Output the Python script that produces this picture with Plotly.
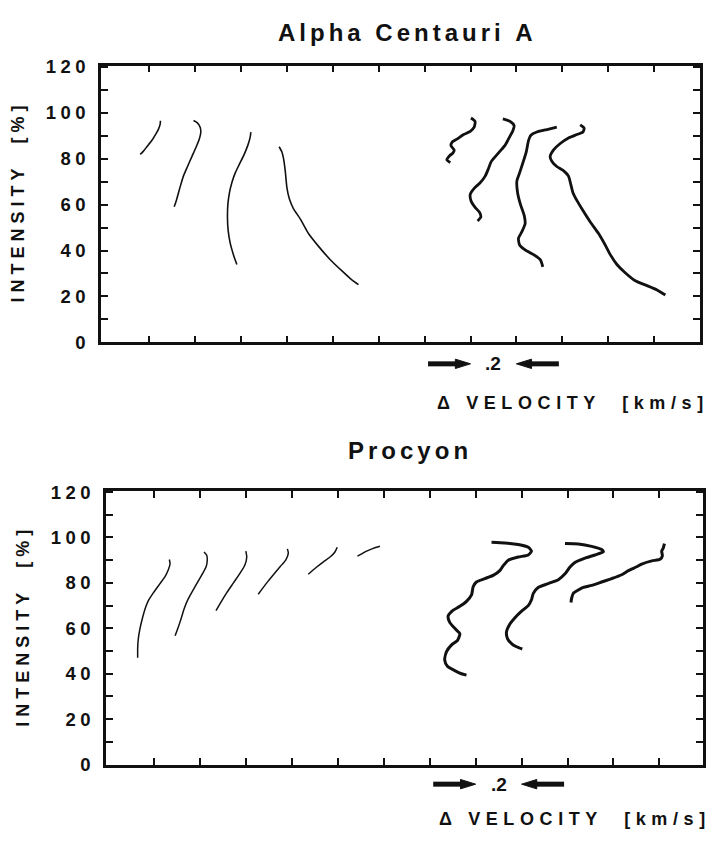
import plotly.graph_objects as go

# ---------------- data: line bisectors, velocity offset [km/s] vs intensity [%]
# Alpha Centauri A
acen_1_v = [-0.039, -0.025, -0.010, 0.012, 0.030, 0.041, 0.048, 0.049]
acen_1_i = [81.9, 83.3, 85.2, 88.0, 90.9, 93.0, 95.2, 96.5]
acen_2_v = [0.193, 0.210, 0.222, 0.225, 0.219, 0.205, 0.186, 0.167, 0.149, 0.138, 0.128, 0.118, 0.109]
acen_2_i = [96.6, 95.6, 93.7, 91.6, 88.8, 85.2, 80.9, 76.6, 72.4, 68.8, 65.3, 61.7, 59.1]
acen_3_v = [0.443, 0.440, 0.430, 0.414, 0.393, 0.375, 0.360, 0.350, 0.343, 0.341, 0.344, 0.353, 0.367, 0.382]
acen_3_i = [91.6, 89.4, 85.9, 81.9, 77.6, 73.8, 69.5, 65.3, 60.3, 54.6, 48.8, 43.2, 38.2, 33.9]
acen_4_v = [0.566, 0.578, 0.585, 0.593, 0.600, 0.611, 0.629, 0.658, 0.694, 0.738, 0.789, 0.840, 0.883, 0.912]
acen_4_i = [85.2, 83.0, 80.2, 74.5, 67.4, 62.4, 58.1, 53.8, 47.4, 41.8, 36.0, 31.1, 27.2, 25.1]
acen_5_v = [1.402, 1.420, 1.416, 1.399, 1.370, 1.341, 1.319, 1.315, 1.329, 1.323, 1.309, 1.297, 1.312]
acen_5_i = [97.7, 96.2, 93.7, 91.9, 90.5, 88.5, 87.1, 85.6, 83.8, 82.4, 81.3, 79.5, 78.3]
acen_6_v = [1.541, 1.573, 1.590, 1.585, 1.570, 1.551, 1.529, 1.508, 1.489, 1.478, 1.464, 1.442, 1.416,
            1.399, 1.402, 1.420, 1.439, 1.445, 1.431]
acen_6_i = [97.3, 96.2, 94.4, 92.3, 89.4, 85.9, 83.3, 80.9, 78.5, 75.6, 72.4, 69.5, 67.1,
            64.5, 61.7, 58.8, 56.7, 54.6, 52.9]
acen_7_v = [1.776, 1.733, 1.689, 1.663, 1.653, 1.643, 1.628, 1.614, 1.602, 1.605, 1.617, 1.634, 1.638,
            1.624, 1.609, 1.614, 1.638, 1.675, 1.704, 1.715]
acen_7_i = [93.7, 92.7, 91.6, 90.2, 88.0, 83.0, 78.1, 73.8, 70.2, 65.3, 60.3, 55.3, 51.7,
            48.2, 45.3, 42.4, 40.3, 38.2, 36.0, 32.9]
acen_8_v = [1.878, 1.895, 1.890, 1.864, 1.827, 1.791, 1.762, 1.747, 1.755, 1.776, 1.805, 1.827, 1.837,
            1.846, 1.864, 1.890, 1.922, 1.958, 1.987, 2.009, 2.038, 2.074, 2.118, 2.169, 2.213, 2.249]
acen_8_i = [94.7, 93.3, 91.6, 90.5, 89.0, 86.6, 83.8, 80.9, 78.8, 76.6, 74.8, 72.4, 68.8,
            65.3, 61.7, 57.4, 52.4, 47.4, 42.4, 38.2, 33.9, 30.3, 26.8, 24.7, 22.8, 20.6]

# Procyon
proc_1_v = [0.066, 0.069, 0.061, 0.047, 0.025, -0.004, -0.026, -0.040, -0.052, -0.062, -0.069, -0.072, -0.072]
proc_1_i = [90.3, 88.3, 85.7, 82.8, 79.7, 75.6, 72.1, 68.5, 64.2, 59.9, 55.7, 51.4, 47.1]
proc_2_v = [0.217, 0.229, 0.231, 0.226, 0.211, 0.189, 0.163, 0.144, 0.130, 0.117, 0.105, 0.091]
proc_2_i = [93.6, 92.1, 90.0, 87.1, 84.2, 80.3, 75.7, 72.1, 68.5, 64.2, 60.6, 56.7]
proc_3_v = [0.399, 0.403, 0.395, 0.374, 0.345, 0.316, 0.294, 0.269]
proc_3_i = [94.0, 91.4, 87.9, 84.3, 80.0, 75.7, 72.1, 67.8]
proc_4_v = [0.580, 0.584, 0.574, 0.548, 0.519, 0.490, 0.453]
proc_4_i = [95.0, 93.1, 90.3, 87.1, 83.6, 80.0, 75.0]
proc_5_v = [0.797, 0.787, 0.766, 0.737, 0.705, 0.671]
proc_5_i = [95.7, 93.6, 91.4, 89.3, 86.8, 83.8]
proc_6_v = [0.983, 0.954, 0.925, 0.904, 0.885]
proc_6_i = [96.1, 95.2, 94.0, 92.8, 91.8]
proc_7_v = [1.469, 1.527, 1.585, 1.629, 1.643, 1.629, 1.585, 1.542, 1.520, 1.505, 1.476, 1.440, 1.403,
            1.389, 1.382, 1.360, 1.331, 1.297, 1.280, 1.287, 1.312, 1.331, 1.321, 1.294, 1.273, 1.265,
            1.277, 1.309, 1.338, 1.360]
proc_7_i = [97.9, 97.6, 96.9, 95.7, 94.0, 92.3, 91.4, 90.0, 87.6, 85.4, 83.3, 81.9, 80.4,
            78.3, 74.7, 71.9, 69.7, 67.6, 65.4, 62.6, 59.7, 57.6, 54.7, 52.6, 49.7, 46.1,
            43.3, 41.4, 40.0, 39.4]
proc_8_v = [1.789, 1.847, 1.905, 1.949, 1.956, 1.919, 1.876, 1.832, 1.810, 1.789, 1.760, 1.716, 1.672,
            1.651, 1.643, 1.629, 1.600, 1.571, 1.549, 1.534, 1.539, 1.556, 1.578, 1.603]
proc_8_i = [97.3, 97.1, 96.1, 94.7, 93.7, 92.3, 90.9, 89.0, 86.9, 84.0, 81.4, 79.7, 78.0,
            75.4, 72.6, 70.0, 67.6, 64.7, 61.9, 58.3, 55.4, 53.3, 51.9, 50.9]
proc_9_v = [2.222, 2.217, 2.210, 2.213, 2.203, 2.167, 2.123, 2.101, 2.065, 2.036, 1.992, 1.949, 1.905,
            1.869, 1.847, 1.825, 1.818, 1.815]
proc_9_i = [97.3, 95.4, 94.0, 91.9, 90.4, 89.7, 88.3, 87.1, 85.4, 83.6, 81.9, 80.4, 78.9,
            78.0, 76.9, 75.4, 73.3, 71.4]

y_tick_values = list(range(0, 121, 10))
y_tick_labels = ["0", "", "20", "", "40", "", "60", "", "80", "", "100", "", "120"]
x_tick_values = [round(0.2 * k, 1) for k in range(12)]

SCALE_BAR = 0.2       # km/s marked by the pair of arrows
SCALE_START = 1.4

# ---------------- styling
FONT = "Liberation Sans, Arial, Helvetica, sans-serif"
INK = "#111111"


def spaced(text, px):
    """Track all characters but the last, so anchoring follows the glyphs."""
    if len(text) < 2:
        return text
    return f'<span style="letter-spacing:{px}px">{text[:-1]}</span>{text[-1]}'


fig = go.Figure()

panels = [
    ("x", "y", [
        (acen_1_v, acen_1_i, 1.6), (acen_2_v, acen_2_i, 1.6), (acen_3_v, acen_3_i, 1.6),
        (acen_4_v, acen_4_i, 1.6), (acen_5_v, acen_5_i, 2.8), (acen_6_v, acen_6_i, 2.8),
        (acen_7_v, acen_7_i, 2.8), (acen_8_v, acen_8_i, 2.8)]),
    ("x2", "y2", [
        (proc_1_v, proc_1_i, 1.5), (proc_2_v, proc_2_i, 1.5), (proc_3_v, proc_3_i, 1.5),
        (proc_4_v, proc_4_i, 1.5), (proc_5_v, proc_5_i, 1.5), (proc_6_v, proc_6_i, 1.5),
        (proc_7_v, proc_7_i, 3.0), (proc_8_v, proc_8_i, 3.0), (proc_9_v, proc_9_i, 3.0)]),
]

for xa, ya, curves in panels:
    for v, inten, w in curves:
        fig.add_trace(go.Scatter(
            x=v, y=inten, xaxis=xa, yaxis=ya, mode="lines",
            line=dict(color=INK, width=w, shape="spline", smoothing=0.6),
            showlegend=False, hoverinfo="skip"))

W, H = 708, 845


def px_x(p):
    return p / W


def px_y(p):
    return 1 - p / H


common_x = dict(
    showline=True, linewidth=2.6, linecolor=INK, mirror="allticks",
    ticks="inside", ticklen=7, tickwidth=2, tickcolor=INK,
    tickmode="array", tickvals=x_tick_values, showticklabels=False,
    showgrid=False, zeroline=False, fixedrange=True)
common_y = dict(
    showline=True, linewidth=2.6, linecolor=INK, mirror="allticks",
    ticks="inside", ticklen=7, tickwidth=2, tickcolor=INK,
    tickmode="array", tickvals=y_tick_values,
    ticktext=[spaced(t, 4.5) for t in y_tick_labels],
    tickfont=dict(family=FONT, size=18.5, color=INK, weight="bold"),
    ticklabelstandoff=9,
    range=[0, 120.5], showgrid=False, zeroline=False, fixedrange=True)

fig.update_layout(
    width=W, height=H, autosize=False,
    margin=dict(l=0, r=0, t=0, b=0),
    paper_bgcolor="white", plot_bgcolor="white",
    xaxis=dict(common_x, domain=[px_x(101), px_x(700)], range=[-0.21, 2.40], anchor="y"),
    yaxis=dict(common_y, domain=[px_y(341), px_y(58)], anchor="x"),
    xaxis2=dict(common_x, domain=[px_x(106), px_x(703)], range=[-0.21, 2.39], anchor="y2"),
    yaxis2=dict(common_y, domain=[px_y(773), px_y(493)], anchor="x2"),
)

title_font = dict(family=FONT, size=24, color=INK, weight="bold")
label_font = dict(family=FONT, size=18, color=INK, weight="bold")

annotations = [
    dict(text=spaced("Alpha Centauri A", 4), x=px_x(405), y=px_y(24), font=title_font),
    dict(text=spaced("Procyon", 4), x=px_x(408), y=px_y(452), font=title_font),
    dict(text=spaced("INTENSITY\u00a0\u00a0[%]", 5), x=px_x(18), y=px_y(200),
         textangle=-90, font=label_font),
    dict(text=spaced("INTENSITY\u00a0\u00a0[%]", 5), x=px_x(23), y=px_y(634),
         textangle=-90, font=label_font),
    dict(text=spaced("\u0394\u00a0VELOCITY\u00a0\u00a0[km/s]", 5.6), x=px_x(705), y=px_y(403),
         xanchor="right", font=label_font),
    dict(text=spaced("\u0394\u00a0VELOCITY\u00a0\u00a0[km/s]", 5.6), x=px_x(707), y=px_y(829),
         xanchor="right", font=label_font),
]
for a in annotations:
    a.update(xref="paper", yref="paper", showarrow=False)
    a.setdefault("xanchor", "center")
    a.setdefault("yanchor", "middle")

# scale bar: two arrows pointing at an interval of SCALE_BAR km/s
shapes = []
ARROW_LEN = 0.185
HEAD_LEN = 0.066
HEAD_HALF = 4.8 / H
for xa, arrow_row in (("x", 363), ("x2", 793)):
    yc = px_y(arrow_row)
    lo, hi = SCALE_START, SCALE_START + SCALE_BAR
    for tip, tail in ((lo, lo - ARROW_LEN), (hi, hi + ARROW_LEN)):
        d = 1 if tip > tail else -1
        base = tip - d * HEAD_LEN
        shapes.append(dict(type="line", xref=xa, yref="paper", x0=tail, x1=base + d * 0.01,
                           y0=yc, y1=yc, line=dict(color=INK, width=5)))
        shapes.append(dict(type="path", xref=xa, yref="paper",
                           path=f"M {tip},{yc} L {base},{yc + HEAD_HALF} L {base},{yc - HEAD_HALF} Z",
                           fillcolor=INK, line=dict(color=INK, width=1)))
    annotations.append(dict(text="<b>.2</b>", xref=xa, yref="paper", x=(lo + hi) / 2, y=yc,
                            showarrow=False, xanchor="center", yanchor="middle",
                            font=dict(family=FONT, size=19, color=INK)))

fig.update_layout(annotations=annotations, shapes=shapes)

fig.write_html("out.html")
